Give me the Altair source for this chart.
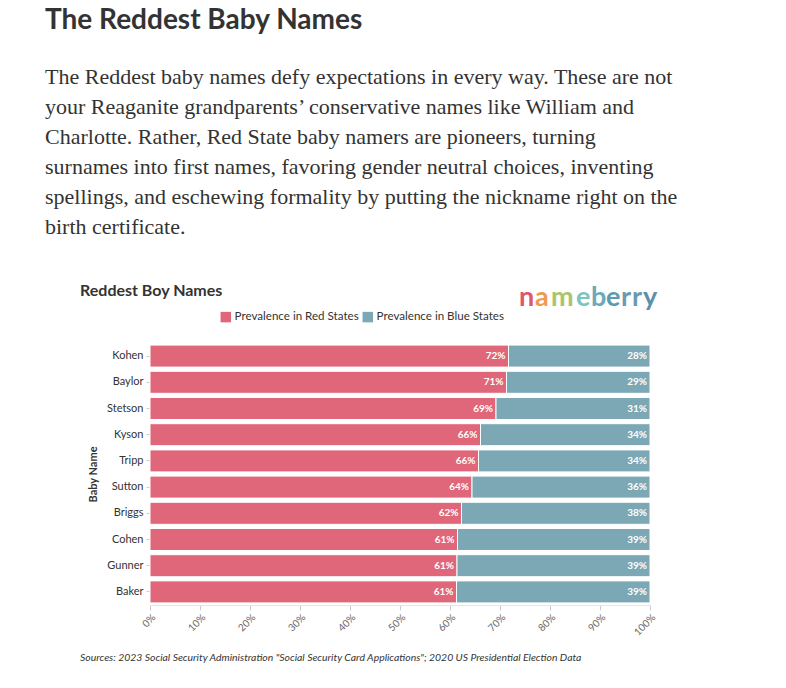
import altair as alt
import pandas as pd

names = ["Kohen", "Baylor", "Stetson", "Kyson", "Tripp", "Sutton", "Briggs", "Cohen", "Gunner", "Baker"]
red_share = [71.7, 71.3, 69.2, 66.1, 65.7, 64.4, 62.3, 61.5, 61.4, 61.3]
red_labels = ["72%", "71%", "69%", "66%", "66%", "64%", "62%", "61%", "61%", "61%"]
blue_labels = ["28%", "29%", "31%", "34%", "34%", "36%", "38%", "39%", "39%", "39%"]
series = ["Prevalence in Red States", "Prevalence in Blue States"]
colors = ["#E06679", "#7BA8B4"]

title = "The Reddest Baby Names"
paragraph = [
    "The Reddest baby names defy expectations in every way. These are not",
    "your Reaganite grandparents\u2019 conservative names like William and",
    "Charlotte. Rather, Red State baby namers are pioneers, turning",
    "surnames into first names, favoring gender neutral choices, inventing",
    "spellings, and eschewing formality by putting the nickname right on the",
    "birth certificate.",
]
chart_title = "Reddest Boy Names"
source = 'Sources: 2023 Social Security Administration "Social Security Card Applications"; 2020 US Presidential Election Data'
logo_letters = list("nameberry")
logo_colors = ["#E2566C", "#F09A4E", "#A9C46A", "#7DC3C0", "#6AAAB8", "#5E9BAE", "#6A9BB2", "#6A9BB2", "#5C8FA8"]

rows = []
for i, n in enumerate(names):
    r = red_share[i]
    rows.append({"name": n, "series": series[0], "start": 0, "end": r, "label": red_labels[i], "ord": 0})
    rows.append({"name": n, "series": series[1], "start": r, "end": 100, "label": blue_labels[i], "ord": 1})
df = pd.DataFrame(rows)

FONT = "Lato"
W, H = 500, 262
L, T = 150, 343

base = alt.Chart(df)
ysc = alt.Y("name:N", sort=names, scale=alt.Scale(paddingInner=0.16, paddingOuter=0.08),
            axis=alt.Axis(title="Baby Name", titleFont=FONT, titleFontSize=11, titleFontWeight="bold",
                          titleColor="#333", titlePadding=8, labelFont=FONT, labelFontSize=11,
                          labelColor="#333", labelPadding=3, tickSize=4, tickColor="#ccc", domain=False))

bars = base.mark_bar(stroke="white", strokeWidth=1).encode(
    x=alt.X("start:Q", scale=alt.Scale(domain=[0, 100], nice=False),
            axis=alt.Axis(title=None, values=list(range(0, 101, 10)), labelExpr="datum.value + '%'",
                          labelAngle=315, labelFont=FONT, labelFontSize=10, labelColor="#666",
                          tickColor="#ccc", tickSize=5, domainColor="#e4e4e4", grid=False, labelPadding=2)),
    x2="end:Q",
    y=ysc,
    color=alt.Color("series:N", scale=alt.Scale(domain=series, range=colors),
                    legend=alt.Legend(title=None, orient="none", direction="horizontal",
                                      legendX=70, legendY=-32, labelFont=FONT, labelFontSize=11.6,
                                      labelColor="#333", symbolType="square", symbolSize=110,
                                      symbolStrokeWidth=0, columnPadding=3, labelOffset=3)),
)

labels = base.mark_text(align="right", baseline="middle", dx=-3, font=FONT, fontSize=10,
                        fontWeight="bold", color="white").encode(
    x="end:Q", y=alt.Y("name:N", sort=names), text="label:N")

def txt(s, x, y, **kw):
    return alt.Chart(pd.DataFrame({"t": [s]})).mark_text(align="left", **kw).encode(
        x=alt.value(x - L), y=alt.value(y - T), text="t:N")

layers = [bars, labels]
layers.append(txt(title, 45, 21, baseline="middle", font=FONT, fontSize=28, fontWeight="bold", color="#333"))
for i, line in enumerate(paragraph):
    layers.append(txt(line, 45, 77 + 30 * i, baseline="middle", font="Liberation Serif", fontSize=22, color="#333"))
layers.append(txt(chart_title, 80, 291, baseline="middle", font=FONT, fontSize=16, fontWeight="bold", color="#333"))
layers.append(txt(source, 80, 658, baseline="middle", font=FONT, fontSize=10.4, fontStyle="italic", color="#333"))

logo_x = [519, 535, 551, 576, 591, 606, 621, 632, 643]
for ch, c, x in zip(logo_letters, logo_colors, logo_x):
    layers.append(txt(ch, x, 298, baseline="middle", font=FONT, fontSize=27, fontWeight="bold", color=c))

chart = alt.layer(*layers).properties(
    width=W, height=H,
    autosize=alt.AutoSizeParams(type="none"),
    padding={"left": L, "top": T, "right": 786 - L - W, "bottom": 688 - T - H},
).configure_view(stroke=None)

chart.save("out.html", embed_options={"renderer": "svg", "actions": False})
